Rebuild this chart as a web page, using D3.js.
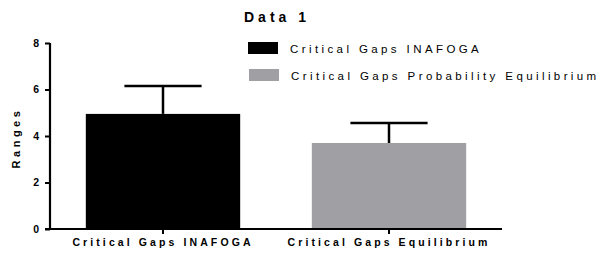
<!DOCTYPE html>
<html>
<head>
<meta charset="utf-8">
<script src="https://cdn.jsdelivr.net/npm/d3@7"></script>
<style>
  body { margin: 0; background: #fff; }
  svg { display: block; font-family: "Liberation Sans", Arial, sans-serif; }
</style>
</head>
<body>
<svg width="606" height="253"></svg>
<script>
const categories = ['Critical Gaps INAFOGA', 'Critical Gaps Equilibrium'];
const means = [4.95, 3.7];
const errors = [1.2, 0.86];
const legendLabels = ['Critical Gaps INAFOGA', 'Critical Gaps Probability Equilibrium'];
const colors = ['#000000', '#a0a0a4'];
const yTicks = [0, 2, 4, 6, 8];

const svg = d3.select('svg');
const margin = { left: 50, right: 104, top: 43, bottom: 24 };
const width = +svg.attr('width');
const height = +svg.attr('height');
const innerWidth = width - margin.left - margin.right;
const innerHeight = height - margin.top - margin.bottom;

const g = svg.append('g')
    .attr('transform', `translate(${margin.left},${margin.top})`);

const x = d3.scaleBand()
    .domain(categories)
    .range([0, innerWidth])
    .paddingInner(0.317)
    .paddingOuter(0.1585);

const y = d3.scaleLinear()
    .domain([0, 8])
    .range([innerHeight, 0]);

// bars
g.selectAll('.bar').data(categories)
  .enter().append('rect')
    .attr('class', 'bar')
    .attr('x', d => x(d))
    .attr('width', x.bandwidth())
    .attr('y', (d, i) => y(means[i]))
    .attr('height', (d, i) => y(0) - y(means[i]))
    .attr('fill', (d, i) => colors[i]);

// error bars (upper only)
const eb = g.selectAll('.err').data(categories)
  .enter().append('g')
    .attr('class', 'err')
    .attr('transform', d => `translate(${x(d) + x.bandwidth() / 2},0)`);
eb.append('line')
    .attr('y1', (d, i) => y(means[i]))
    .attr('y2', (d, i) => y(means[i] + errors[i]))
    .attr('stroke', '#000')
    .attr('stroke-width', 2.5);
eb.append('line')
    .attr('x1', -x.bandwidth() / 4)
    .attr('x2', x.bandwidth() / 4)
    .attr('y1', (d, i) => y(means[i] + errors[i]))
    .attr('y2', (d, i) => y(means[i] + errors[i]))
    .attr('stroke', '#000')
    .attr('stroke-width', 2.5);

// y axis
const yAxisG = g.append('g')
    .call(d3.axisLeft(y).tickValues(yTicks).tickSize(5).tickPadding(6));
yAxisG.select('.domain').attr('stroke-width', 2.2).attr('d', `M0,${y(8)}V${y(0)}`);
yAxisG.selectAll('.tick line').attr('stroke-width', 2);
yAxisG.selectAll('.tick text')
    .attr('font-size', 10.5)
    .attr('font-weight', 'bold')
    .attr('font-family', '"Liberation Sans", Arial, sans-serif');

// x axis
const xAxisG = g.append('g')
    .attr('transform', `translate(0,${innerHeight})`)
    .call(d3.axisBottom(x).tickSize(5).tickPadding(5));
xAxisG.select('.domain').attr('stroke-width', 2.2).attr('d', `M-5,0H${innerWidth}`);
xAxisG.selectAll('.tick line').attr('stroke-width', 2);
xAxisG.selectAll('.tick text')
    .attr('font-size', 10.5)
    .attr('font-weight', 'bold')
    .attr('letter-spacing', '3.1px')
    .attr('font-family', '"Liberation Sans", Arial, sans-serif');

// y axis title
svg.append('text')
    .attr('transform', `translate(20,${margin.top + innerHeight / 2 + 2}) rotate(-90)`)
    .attr('text-anchor', 'middle')
    .attr('font-size', 11)
    .attr('font-weight', 'bold')
    .attr('letter-spacing', '3.5px')
    .text('Ranges');

// title
svg.append('text')
    .attr('x', 277)
    .attr('y', 22)
    .attr('text-anchor', 'middle')
    .attr('font-size', 14)
    .attr('font-weight', 'bold')
    .attr('letter-spacing', '4px')
    .text('Data 1');

// legend
const legend = svg.append('g')
    .attr('transform', 'translate(248,42)');
const rows = legend.selectAll('g').data(legendLabels)
  .enter().append('g')
    .attr('transform', (d, i) => `translate(${i * 1},${i * 27})`);
rows.append('rect')
    .attr('width', 30)
    .attr('height', 12)
    .attr('fill', (d, i) => colors[i]);
rows.append('text')
    .attr('x', 42)
    .attr('y', 11)
    .attr('font-size', 11.5)
    .attr('letter-spacing', '3.4px')
    .text(d => d);
</script>
</body>
</html>
